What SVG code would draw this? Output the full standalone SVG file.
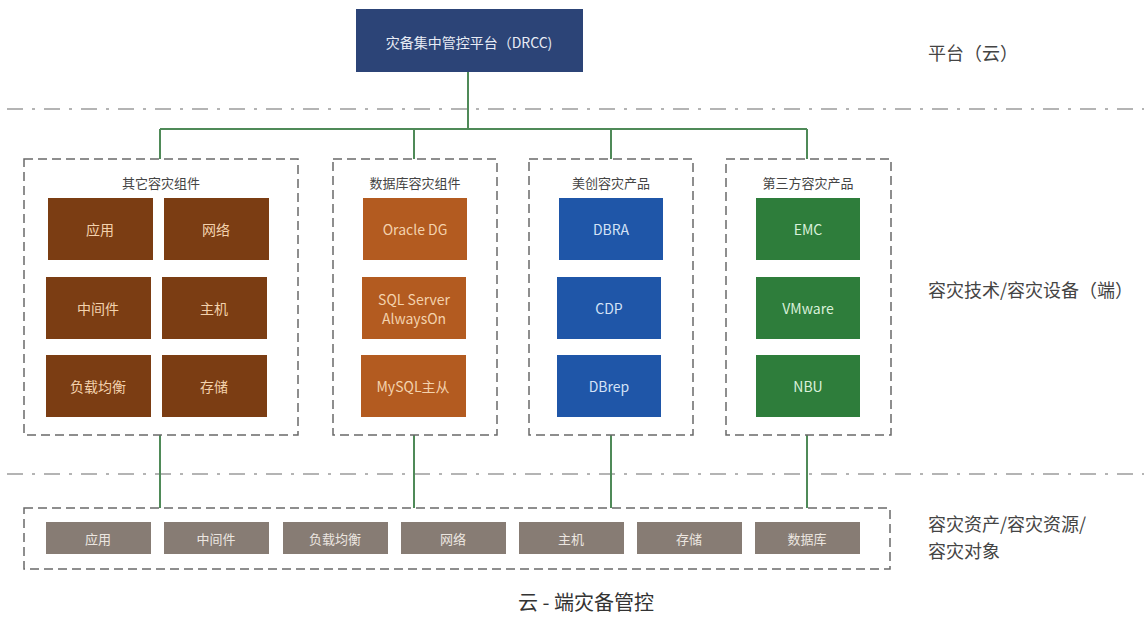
<svg xmlns="http://www.w3.org/2000/svg" width="1144" height="617" viewBox="0 0 1144 617">
<style>
text{font-family:"Noto Sans CJK SC","Noto Sans",sans-serif;text-anchor:middle;dominant-baseline:central}
.sep{stroke:#b4b4b4;stroke-width:2;stroke-dasharray:16 9 3 9;fill:none}
.grp{fill:#fff;stroke:#6a6a6a;stroke-width:1.5;stroke-dasharray:9 5}
.con{stroke:#4f8a58;stroke-width:2;fill:none}
.title{font-size:13px;fill:#444}
.lab{font-size:18px;fill:#444;text-anchor:start}
.b1{fill:#7b3d13}.b2{fill:#b35b20}.b3{fill:#1f56a8}.b4{fill:#2e7d3b}.b5{fill:#877c74}
.t1{font-size:14px;fill:#f3d2ad}.t3{font-size:14px;fill:#d3e2f6}.t4{font-size:14px;fill:#d9f0da}.t5{font-size:13px;fill:#ece6e0}
</style>
<rect width="1144" height="617" fill="#fff"/>
<g id="separators">
<line class="sep" x1="7" y1="109" x2="1144" y2="109"/>
<line class="sep" x1="7" y1="474" x2="1144" y2="474"/>
</g>
<g id="connectors">
<path class="con" d="M468 72V129M160 129H807M160 129V159M414 129V159M611 129V159M807 129V159"/>
<path class="con" d="M160 435V508M414 435V508M611 435V508M807 435V508"/>
</g>
<g id="drcc">
<rect x="356" y="9" width="227" height="63" fill="#2c4477"/>
<text x="469" y="42" style="font-size:14px;fill:#e8ecf5">灾备集中管控平台（DRCC)</text>
</g>
<g id="group-other">
<rect class="grp" x="24" y="159" width="274" height="276"/>
<text class="title" x="161" y="182">其它容灾组件</text>
<rect class="b1" x="48" y="198" width="105" height="62"/><text class="t1" x="100" y="229">应用</text>
<rect class="b1" x="164" y="198" width="105" height="62"/><text class="t1" x="216" y="229">网络</text>
<rect class="b1" x="46" y="277" width="105" height="62"/><text class="t1" x="98" y="308">中间件</text>
<rect class="b1" x="162" y="277" width="105" height="62"/><text class="t1" x="214" y="308">主机</text>
<rect class="b1" x="46" y="355" width="105" height="62"/><text class="t1" x="98" y="386">负载均衡</text>
<rect class="b1" x="162" y="355" width="105" height="62"/><text class="t1" x="214" y="386">存储</text>
</g>
<g id="group-db">
<rect class="grp" x="333" y="159" width="164" height="276"/>
<text class="title" x="415" y="182">数据库容灾组件</text>
<rect class="b2" x="363" y="198" width="104" height="62"/><text class="t1" x="415" y="229">Oracle DG</text>
<rect class="b2" x="362" y="277" width="104" height="62"/><text class="t1" x="414" y="299">SQL Server</text><text class="t1" x="414" y="318">AlwaysOn</text>
<rect class="b2" x="361" y="355" width="105" height="62"/><text class="t1" x="413" y="386">MySQL主从</text>
</g>
<g id="group-meichuang">
<rect class="grp" x="529" y="159" width="164" height="276"/>
<text class="title" x="611" y="182">美创容灾产品</text>
<rect class="b3" x="559" y="198" width="104" height="62"/><text class="t3" x="611" y="229">DBRA</text>
<rect class="b3" x="557" y="277" width="104" height="62"/><text class="t3" x="609" y="308">CDP</text>
<rect class="b3" x="557" y="355" width="104" height="62"/><text class="t3" x="609" y="386">DBrep</text>
</g>
<g id="group-third">
<rect class="grp" x="726" y="159" width="165" height="276"/>
<text class="title" x="808" y="182">第三方容灾产品</text>
<rect class="b4" x="756" y="198" width="104" height="62"/><text class="t4" x="808" y="229">EMC</text>
<rect class="b4" x="756" y="277" width="104" height="62"/><text class="t4" x="808" y="308">VMware</text>
<rect class="b4" x="756" y="355" width="104" height="62"/><text class="t4" x="808" y="386">NBU</text>
</g>
<g id="group-assets">
<rect class="grp" x="24" y="508" width="866" height="61"/>
<rect class="b5" x="46" y="522" width="105" height="32"/><text class="t5" x="98" y="538">应用</text>
<rect class="b5" x="164" y="522" width="105" height="32"/><text class="t5" x="216" y="538">中间件</text>
<rect class="b5" x="283" y="522" width="105" height="32"/><text class="t5" x="335" y="538">负载均衡</text>
<rect class="b5" x="401" y="522" width="105" height="32"/><text class="t5" x="453" y="538">网络</text>
<rect class="b5" x="519" y="522" width="105" height="32"/><text class="t5" x="571" y="538">主机</text>
<rect class="b5" x="637" y="522" width="105" height="32"/><text class="t5" x="689" y="538">存储</text>
<rect class="b5" x="755" y="522" width="105" height="32"/><text class="t5" x="807" y="538">数据库</text>
</g>
<g id="labels">
<text class="lab" x="928" y="52">平台（云）</text>
<text class="lab" x="928" y="289">容灾技术/容灾设备（端）</text>
<text class="lab" x="928" y="523">容灾资产/容灾资源/</text>
<text class="lab" x="928" y="550">容灾对象</text>
<text x="586" y="601" style="font-size:20px;fill:#333">云 - 端灾备管控</text>
</g>
</svg>
